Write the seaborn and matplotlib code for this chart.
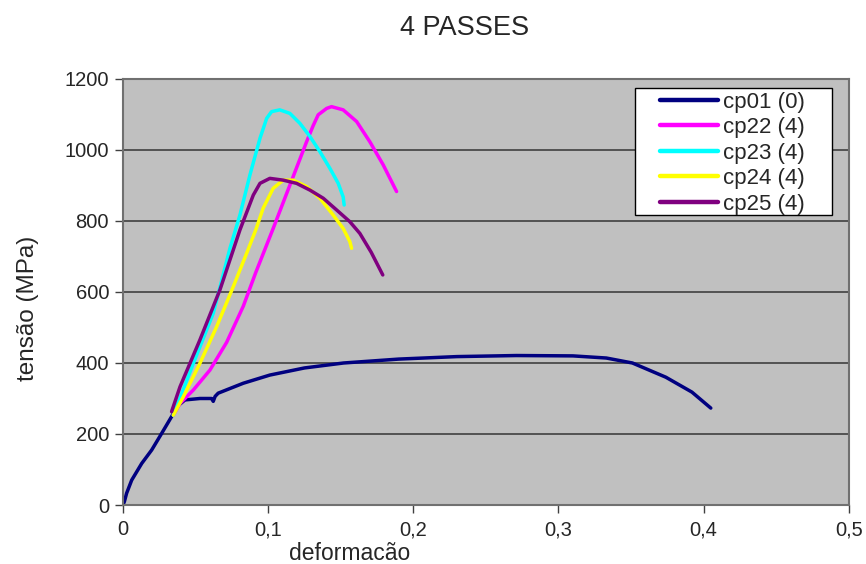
import pandas as pd
import numpy as np
import matplotlib
matplotlib.use('Agg')
import matplotlib.pyplot as plt
import seaborn as sns
from matplotlib.ticker import FuncFormatter
from matplotlib.patches import Rectangle

# Kurven (deformacão, tensão em MPa)
cp01_x = [0, 0.001, 0.0025, 0.006, 0.0129, 0.0198, 0.0267, 0.0335, 0.038, 0.0427, 0.053,
          0.061, 0.0622, 0.0635, 0.0656, 0.0829, 0.1012, 0.125, 0.152, 0.19, 0.23, 0.271,
          0.31, 0.333, 0.351, 0.374, 0.392, 0.405]
cp01_y = [0, 10, 33, 70, 117, 155, 202, 249, 280, 296, 300, 300, 292, 306, 315, 343, 366,
          386, 400, 411, 418, 421, 420, 414, 400, 360, 318, 273]

cp22_x = [0.0347, 0.0393, 0.0485, 0.0599, 0.0714, 0.0829, 0.0915, 0.1035, 0.115, 0.1265,
          0.131, 0.1345, 0.1403, 0.1437, 0.1517, 0.161, 0.1701, 0.1793, 0.1885]
cp22_y = [253, 286, 324, 380, 458, 560, 655, 779, 901, 1023, 1068, 1099, 1117, 1122,
          1113, 1080, 1023, 958, 883]

cp23_x = [0.0347, 0.0485, 0.0622, 0.0737, 0.0806, 0.0875, 0.0944, 0.099, 0.1024, 0.108,
          0.115, 0.1219, 0.1288, 0.1357, 0.1426, 0.1483, 0.1517, 0.1524]
cp23_y = [253, 399, 540, 723, 817, 930, 1033, 1089, 1108, 1113, 1103, 1075, 1038, 995, 948,
          906, 868, 845]

cp24_x = [0.0347, 0.0416, 0.053, 0.0645, 0.076, 0.0852, 0.0915, 0.0966, 0.1035, 0.1104,
          0.1173, 0.1265, 0.1357, 0.1448, 0.1517, 0.1563, 0.1575]
cp24_y = [253, 305, 399, 502, 615, 709, 775, 836, 892, 915, 915, 897, 864, 817, 779, 742,
          723]

cp25_x = [0.0335, 0.0393, 0.053, 0.0668, 0.0806, 0.0898, 0.0944, 0.1012, 0.1104,
          0.1196, 0.1288, 0.138, 0.1472, 0.1563, 0.1632, 0.171, 0.179]
cp25_y = [263, 333, 465, 606, 775, 873, 906, 920, 915, 906, 887, 864, 831, 798, 765,
          712, 648]

labels = ['cp01 (0)', 'cp22 (4)', 'cp23 (4)', 'cp24 (4)', 'cp25 (4)']
colors = ['#000080', '#FF00FF', '#00FFFF', '#FFFF00', '#800080']

series = [(cp01_x, cp01_y), (cp22_x, cp22_y), (cp23_x, cp23_y), (cp24_x, cp24_y), (cp25_x, cp25_y)]
frames = []
for lab, (xs, ys) in zip(labels, series):
    frames.append(pd.DataFrame({'deformacao': xs, 'tensao': ys, 'Serie': lab}))
df = pd.concat(frames, ignore_index=True)

sns.set_style('white')
plt.rcParams['font.family'] = ['Liberation Sans', 'DejaVu Sans']

fig = plt.figure(figsize=(8.66, 5.64), dpi=100)
ax = fig.add_axes([0.142, 0.1046, 0.838, 0.7554])
ax.set_facecolor('#C0C0C0')

sns.lineplot(data=df, x='deformacao', y='tensao', hue='Serie', hue_order=labels,
             palette=colors, sort=False, estimator=None, units='Serie',
             linewidth=2.5, ax=ax)
for ln in ax.get_lines():
    ln.set_solid_joinstyle('round')
    ln.set_solid_capstyle('round')

ax.set_xlim(0, 0.5)
ax.set_ylim(0, 1200)
ax.set_xticks(np.arange(0, 0.51, 0.1))
ax.set_yticks(np.arange(0, 1201, 200))
ax.xaxis.set_major_formatter(FuncFormatter(lambda v, p: ('%g' % round(v, 2)).replace('.', ',')))
ax.yaxis.grid(True, color='#404040', linewidth=1.2)
ax.xaxis.grid(False)
ax.set_axisbelow(True)
for s in ax.spines.values():
    s.set_color('#707070')
    s.set_linewidth(1.5)
ax.tick_params(axis='both', direction='out', length=6, width=1, color='#404040',
               labelsize=14.5, left=True, bottom=True)
ax.tick_params(axis='y', pad=4)
ax.tick_params(axis='x', pad=5)

ax.set_xlabel('deformacão', fontsize=16.5, va='center')
ax.xaxis.set_label_coords(0.313, -0.113)
ax.set_ylabel('tensão (MPa)', fontsize=17.5, va='center')
ax.yaxis.set_label_coords(-0.131, 0.462)
fig.text(0.536, 0.95, '4 PASSES', ha='center', va='center', fontsize=19.5)

# Legendenkasten (breiter als der Inhalt, wie im Original)
ax.add_patch(Rectangle((0.705, 0.681), 0.272, 0.298, transform=ax.transAxes,
                       facecolor='white', edgecolor='black', linewidth=1.0, zorder=4))
leg = ax.legend(loc='upper left', bbox_to_anchor=(0.740, 0.970), fontsize=16,
                frameon=False, handlelength=2.6, handletextpad=0.25, labelspacing=0.2,
                borderpad=0, borderaxespad=0)
leg.set_zorder(5)
for line in leg.get_lines():
    line.set_linewidth(3.2)

fig.savefig('out.png', dpi=100)
